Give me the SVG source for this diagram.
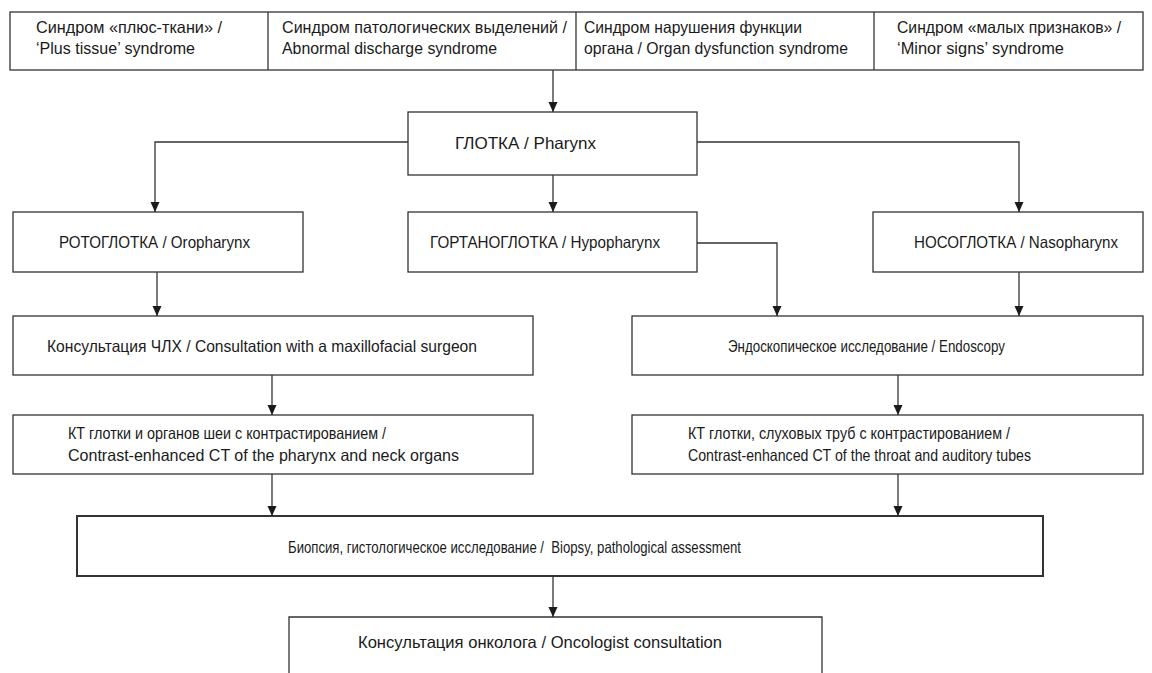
<svg xmlns="http://www.w3.org/2000/svg" width="1152" height="673" viewBox="0 0 1152 673">
<defs>
<marker id="arr" viewBox="0 0 10 16" refX="10" refY="8" markerWidth="10" markerHeight="16" markerUnits="userSpaceOnUse" orient="auto">
<path d="M0,3.5 L10,8 L0,12.5 Z" fill="#1a1a1a"/>
</marker>
<style>
.box{fill:#fff;stroke:#333;stroke-width:1.3}
.thick{stroke-width:2}
.t{font-family:"Liberation Sans",Arial,sans-serif;font-size:16.5px;fill:#1a1a1a}
.c{stroke:#333;stroke-width:1.3;fill:none}
.a{marker-end:url(#arr)}
</style>
</defs>
<rect width="1152" height="673" fill="#fff"/>
<g id="syndromes">
<rect class="box" x="10" y="12" width="1133" height="58"/>
<line class="c" x1="268" y1="12" x2="268" y2="70"/>
<line class="c" x1="576" y1="12" x2="576" y2="70"/>
<line class="c" x1="874" y1="12" x2="874" y2="70"/>
<text class="t" x="36" y="33" textLength="186" lengthAdjust="spacingAndGlyphs">Синдром «плюс-ткани» /</text>
<text class="t" x="36" y="54" textLength="159" lengthAdjust="spacingAndGlyphs">‘Plus tissue’ syndrome</text>
<text class="t" x="282" y="33" textLength="285" lengthAdjust="spacingAndGlyphs">Синдром патологических выделений /</text>
<text class="t" x="282" y="54" textLength="215" lengthAdjust="spacingAndGlyphs">Abnormal discharge syndrome</text>
<text class="t" x="584" y="33" textLength="218" lengthAdjust="spacingAndGlyphs">Синдром нарушения функции</text>
<text class="t" x="584" y="54" textLength="264" lengthAdjust="spacingAndGlyphs">органа / Organ dysfunction syndrome</text>
<text class="t" x="897" y="33" textLength="224" lengthAdjust="spacingAndGlyphs">Синдром «малых признаков» /</text>
<text class="t" x="897" y="54" textLength="167" lengthAdjust="spacingAndGlyphs">‘Minor signs’ syndrome</text>
</g>
<g id="pharynx">
<rect class="box" x="408" y="112" width="289" height="63"/>
<text class="t" x="455" y="149" textLength="141" lengthAdjust="spacingAndGlyphs">ГЛОТКА / Pharynx</text>
</g>
<g id="oropharynx">
<rect class="box" x="13" y="212" width="290" height="60"/>
<text class="t" x="59" y="248" textLength="191" lengthAdjust="spacingAndGlyphs">РОТОГЛОТКА / Oropharynx</text>
</g>
<g id="hypopharynx">
<rect class="box" x="408" y="212" width="289" height="60"/>
<text class="t" x="430" y="248" textLength="230" lengthAdjust="spacingAndGlyphs">ГОРТАНОГЛОТКА / Hypopharynx</text>
</g>
<g id="nasopharynx">
<rect class="box" x="873" y="212" width="270" height="60"/>
<text class="t" x="914" y="248" textLength="204" lengthAdjust="spacingAndGlyphs">НОСОГЛОТКА / Nasopharynx</text>
</g>
<g id="maxillofacial">
<rect class="box" x="13" y="316" width="520" height="59"/>
<text class="t" x="47" y="352" textLength="430" lengthAdjust="spacingAndGlyphs">Консультация ЧЛХ / Consultation with a maxillofacial surgeon</text>
</g>
<g id="endoscopy">
<rect class="box" x="632" y="316" width="511" height="59"/>
<text class="t" x="728" y="352" textLength="277" lengthAdjust="spacingAndGlyphs">Эндоскопическое исследование / Endoscopy</text>
</g>
<g id="ct-neck">
<rect class="box" x="13" y="415" width="520" height="59"/>
<text class="t" x="68" y="439" textLength="318" lengthAdjust="spacingAndGlyphs">КТ глотки и органов шеи с контрастированием /</text>
<text class="t" x="68" y="461" textLength="391" lengthAdjust="spacingAndGlyphs">Contrast-enhanced CT of the pharynx and neck organs</text>
</g>
<g id="ct-throat">
<rect class="box" x="632" y="415" width="511" height="59"/>
<text class="t" x="688" y="439" textLength="322" lengthAdjust="spacingAndGlyphs">КТ глотки, слуховых труб с контрастированием /</text>
<text class="t" x="688" y="461" textLength="343" lengthAdjust="spacingAndGlyphs">Contrast-enhanced CT of the throat and auditory tubes</text>
</g>
<g id="biopsy">
<rect class="box thick" x="77" y="516" width="966" height="60"/>
<text class="t" x="288" y="553" textLength="453" lengthAdjust="spacingAndGlyphs" xml:space="preserve">Биопсия, гистологическое исследование /  Biopsy, pathological assessment</text>
</g>
<g id="oncologist">
<path class="box" d="M289,680 L289,617 L822,617 L822,680"/>
<text class="t" x="358" y="648" textLength="364" lengthAdjust="spacingAndGlyphs">Консультация онколога / Oncologist consultation</text>
</g>
<g id="connectors">
<line class="c a" x1="553" y1="70" x2="553" y2="112"/>
<polyline class="c a" points="408,142 155,142 155,212"/>
<polyline class="c a" points="697,142 1019,142 1019,212"/>
<line class="c a" x1="553" y1="175" x2="553" y2="212"/>
<line class="c a" x1="157" y1="272" x2="157" y2="316"/>
<polyline class="c a" points="697,243 777,243 777,316"/>
<line class="c a" x1="1019" y1="272" x2="1019" y2="316"/>
<line class="c a" x1="272" y1="375" x2="272" y2="415"/>
<line class="c a" x1="898" y1="375" x2="898" y2="415"/>
<line class="c a" x1="272" y1="474" x2="272" y2="516"/>
<line class="c a" x1="898" y1="474" x2="898" y2="516"/>
<line class="c a" x1="553" y1="576" x2="553" y2="617"/>
</g>
</svg>
